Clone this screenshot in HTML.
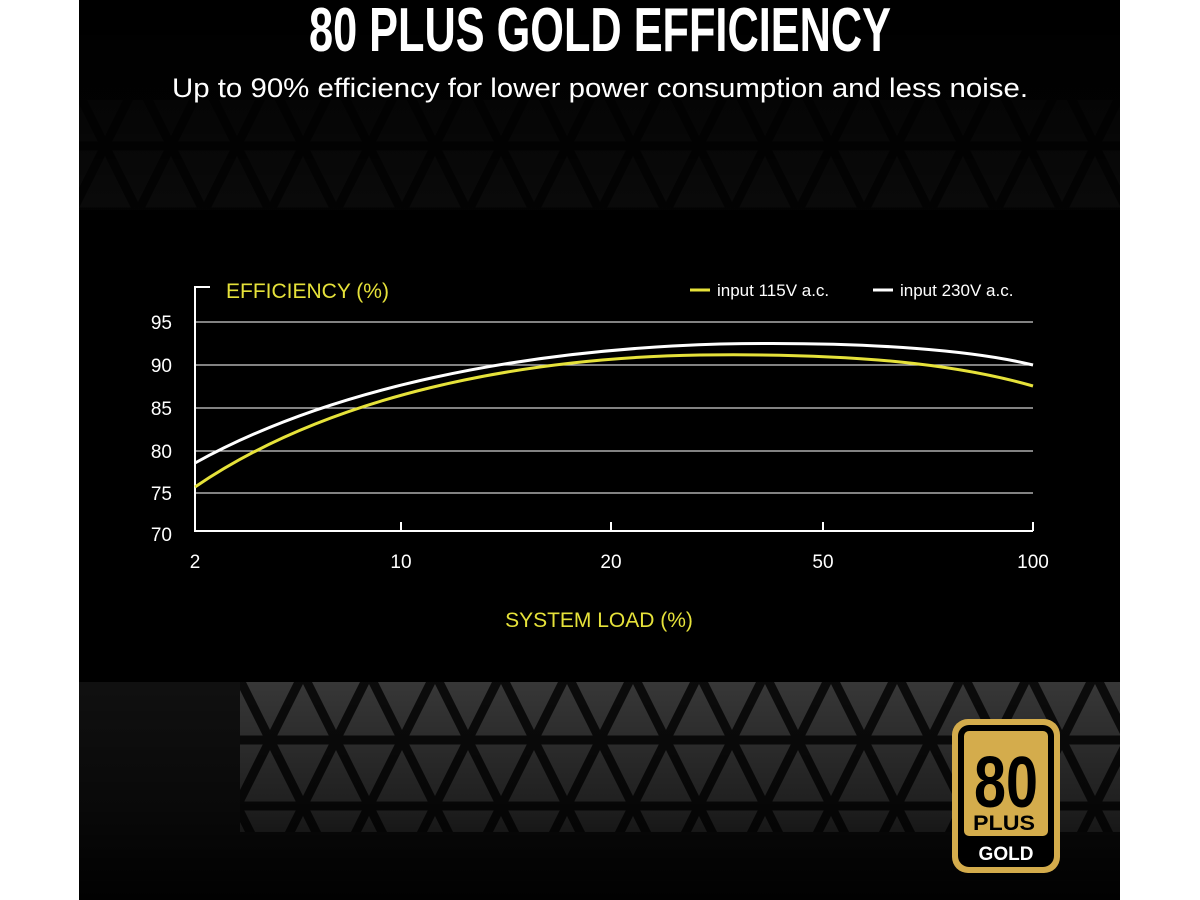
<!DOCTYPE html>
<html><head><meta charset="utf-8"><style>
html,body{margin:0;padding:0;background:#fff;}
body{width:1200px;height:900px;position:relative;overflow:hidden;font-family:"Liberation Sans",sans-serif;}
</style></head><body>
<svg width="1200" height="900" viewBox="0 0 1200 900" style="position:absolute;left:0;top:0">
<defs>
<pattern id="tri" x="105" y="674" width="66" height="132" patternUnits="userSpaceOnUse">
<rect width="66" height="132" fill="#3a3a3a"/>
<path d="M0,0 L66,132 M66,0 L0,132 M-10,0 L76,0 M-10,66 L76,66 M-10,132 L76,132" stroke="#0c0c0c" stroke-width="9" fill="none"/>
</pattern>
<linearGradient id="fadeB" x1="0" y1="0" x2="0" y2="1">
<stop offset="0" stop-color="#000" stop-opacity="0.05"/>
<stop offset="0.55" stop-color="#000" stop-opacity="0.45"/>
<stop offset="1" stop-color="#000" stop-opacity="0.95"/>
</linearGradient>
<linearGradient id="fadeT" x1="0" y1="0" x2="0" y2="1">
<stop offset="0" stop-color="#000" stop-opacity="1"/>
<stop offset="0.5" stop-color="#000" stop-opacity="0.85"/>
<stop offset="1" stop-color="#000" stop-opacity="0.7"/>
</linearGradient>
</defs>
<rect x="79" y="0" width="1041" height="900" fill="#0a0a0a"/>
<rect x="79" y="100" width="1041" height="110" fill="url(#tri)" opacity="0.5"/>
<rect x="79" y="0" width="1041" height="210" fill="url(#fadeT)"/>
<rect x="79" y="682" width="1041" height="218" fill="#111"/>
<rect x="240" y="682" width="880" height="150" fill="url(#tri)"/>
<rect x="79" y="682" width="1041" height="218" fill="url(#fadeB)"/>
<rect x="79" y="210" width="1041" height="472" fill="#000"/>

<text x="600" y="51" fill="#fff" text-anchor="middle" font-family="Liberation Sans Narrow, Liberation Sans, sans-serif" font-weight="bold" font-size="62" textLength="582" lengthAdjust="spacingAndGlyphs">80 PLUS GOLD EFFICIENCY</text>
<text x="600" y="97" fill="#fff" text-anchor="middle" font-size="27" textLength="856" lengthAdjust="spacingAndGlyphs">Up to 90% efficiency for lower power consumption and less noise.</text>

<g stroke="#cfcfcf" stroke-width="1.3">
<line x1="195" y1="322" x2="1033" y2="322"/>
<line x1="195" y1="365" x2="1033" y2="365"/>
<line x1="195" y1="408" x2="1033" y2="408"/>
<line x1="195" y1="451" x2="1033" y2="451"/>
<line x1="195" y1="493" x2="1033" y2="493"/>
</g>
<g stroke="#fff" stroke-width="2" fill="none">
<path d="M210,287 H195 V531 H1033"/>
<line x1="401" y1="531" x2="401" y2="522"/>
<line x1="611" y1="531" x2="611" y2="522"/>
<line x1="823" y1="531" x2="823" y2="522"/>
<line x1="1033" y1="531" x2="1033" y2="522"/>
</g>
<g fill="#fff" font-size="19" text-anchor="end">
<text x="172" y="329">95</text><text x="172" y="372">90</text><text x="172" y="415">85</text>
<text x="172" y="458">80</text><text x="172" y="500">75</text><text x="172" y="541">70</text>
</g>
<g fill="#fff" font-size="19" text-anchor="middle">
<text x="195" y="568">2</text><text x="401" y="568">10</text><text x="611" y="568">20</text>
<text x="823" y="568">50</text><text x="1033" y="568">100</text>
</g>
<text x="226" y="298" fill="#e6e23a" font-size="21">EFFICIENCY (%)</text>
<text x="599" y="627" fill="#e6e23a" font-size="21" text-anchor="middle">SYSTEM LOAD (%)</text>
<line x1="690" y1="290" x2="710" y2="290" stroke="#e6e23a" stroke-width="3"/>
<text x="717" y="296" fill="#fff" font-size="17">input 115V a.c.</text>
<line x1="873" y1="290" x2="893" y2="290" stroke="#fff" stroke-width="3"/>
<text x="900" y="296" fill="#fff" font-size="17">input 230V a.c.</text>

<path d="M195,463 C330,388 520,350 720,344 C880,341 980,352 1033,365" stroke="#fff" stroke-width="3" fill="none"/>
<path d="M195,487 C330,395 520,358 700,355 C860,353 960,365 1033,386" stroke="#e6e23a" stroke-width="3" fill="none"/>

<rect x="952" y="719" width="108" height="154" rx="16" fill="#d4ac4c"/>
<rect x="958" y="725" width="96" height="142" rx="11" fill="#000"/>
<rect x="964" y="731" width="84" height="105" rx="5" fill="#d4ac4c"/>
<text x="1006" y="807" text-anchor="middle" font-family="Liberation Sans Narrow, Liberation Sans, sans-serif" font-weight="bold" font-size="72" fill="#000" textLength="64" lengthAdjust="spacingAndGlyphs">80</text>
<text x="1004" y="830" text-anchor="middle" font-weight="bold" font-size="21" fill="#000" textLength="62" lengthAdjust="spacingAndGlyphs">PLUS</text>
<text x="1006" y="860" text-anchor="middle" font-family="Liberation Sans Narrow, Liberation Sans, sans-serif" font-weight="bold" font-size="19" fill="#fff">GOLD</text>
</svg>
</body></html>
